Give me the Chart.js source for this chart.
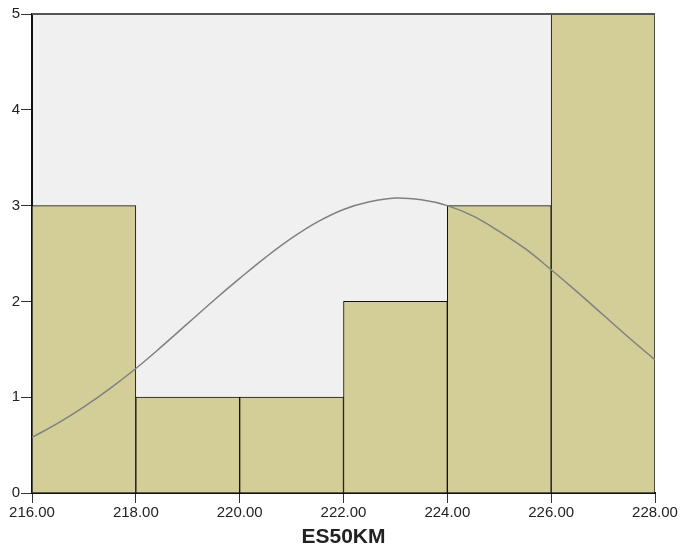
<!DOCTYPE html>
<html>
<head>
<meta charset="utf-8">
<script src="https://cdn.jsdelivr.net/npm/chart.js@4/dist/chart.umd.min.js"></script>
<style>
  html, body { margin: 0; padding: 0; background: #fff; }
  #wrap { width: 680px; height: 550px; }
</style>
</head>
<body>
<div id="wrap"><canvas id="grafico" width="680" height="550"></canvas></div>
<script>
// bins of width 2, centre values
const binCentres = [217, 219, 221, 223, 225, 227];
const frequencies = [3, 1, 1, 2, 3, 5];

// normal curve
const curveX = [216, 216.5, 217, 217.5, 218, 218.5, 219, 219.5, 220, 220.5, 221, 221.5, 222,
                222.5, 223, 223.5, 224, 224.5, 225, 225.5, 226, 226.5, 227, 227.5, 228];
const curveY = [0.58, 0.73, 0.90, 1.09, 1.30, 1.53, 1.77, 2.01, 2.24, 2.46, 2.66, 2.83, 2.96,
                3.04, 3.08, 3.06, 3.00, 2.89, 2.73, 2.55, 2.33, 2.10, 1.86, 1.62, 1.39];

const xTicks = [216, 218, 220, 222, 224, 226, 228];
const yTicks = [0, 1, 2, 3, 4, 5];

// fundo cinza da área do gráfico + linha superior
const fundo = {
    id: 'fundo',
    beforeDraw(chart) {
        const { ctx, chartArea: a } = chart;
        ctx.save();
        ctx.fillStyle = '#f0f0f0';
        ctx.fillRect(a.left, a.top, a.right - a.left, a.bottom - a.top);
        ctx.restore();
    },
    afterDraw(chart) {
        const { ctx, chartArea: a } = chart;
        ctx.save();
        ctx.strokeStyle = '#555';
        ctx.lineWidth = 2;
        ctx.beginPath();
        ctx.moveTo(a.left, a.top);
        ctx.lineTo(a.right, a.top);
        ctx.stroke();
        ctx.restore();
    }
};

const ctx = document.getElementById("grafico").getContext("2d");

window.grafico = new Chart(ctx, {
    type: 'bar',
    data: {
        datasets: [
            {
                type: 'line',
                data: curveX.map((x, i) => ({ x: x, y: curveY[i] })),
                borderColor: '#808080',
                borderWidth: 1.5,
                pointRadius: 0,
                tension: 0.4,
                fill: false,
                order: 0
            },
            {
                data: binCentres.map((x, i) => ({ x: x, y: frequencies[i] })),
                backgroundColor: '#d3ce97',
                borderColor: '#111',
                borderWidth: 1,
                barPercentage: 1,
                categoryPercentage: 1,
                order: 1
            }
        ]
    },
    options: {
        responsive: false,
        animation: false,
        layout: { padding: { top: 14, right: 25, left: 0, bottom: 0 } },
        plugins: { legend: { display: false }, tooltip: { enabled: false } },
        scales: {
            x: {
                type: 'linear',
                min: 216,
                max: 228,
                offset: false,
                afterBuildTicks: axis => { axis.ticks = xTicks.map(v => ({ value: v })); },
                afterFit: axis => { axis.height = 57; },
                ticks: {
                    color: '#222',
                    font: { family: 'Liberation Sans, Arial', size: 15 },
                    padding: 1,
                    maxRotation: 0,
                    callback: v => v.toFixed(2)
                },
                grid: { drawOnChartArea: false, offset: false, tickLength: 10, color: '#333' },
                border: { color: '#111', width: 2 },
                title: {
                    display: true,
                    text: 'ES50KM',
                    color: '#222',
                    font: { family: 'Liberation Sans, Arial', size: 21, weight: 'bold' },
                    padding: { top: 4, bottom: 0 }
                }
            },
            y: {
                min: 0,
                max: 5,
                afterBuildTicks: axis => { axis.ticks = yTicks.map(v => ({ value: v })); },
                afterFit: axis => { axis.width = 32; },
                ticks: {
                    color: '#222',
                    font: { family: 'Liberation Sans, Arial', size: 15 },
                    padding: 1
                },
                grid: { drawOnChartArea: false, tickLength: 11, color: '#333' },
                border: { color: '#111', width: 2 }
            }
        }
    },
    plugins: [fundo]
});
</script>
</body>
</html>
